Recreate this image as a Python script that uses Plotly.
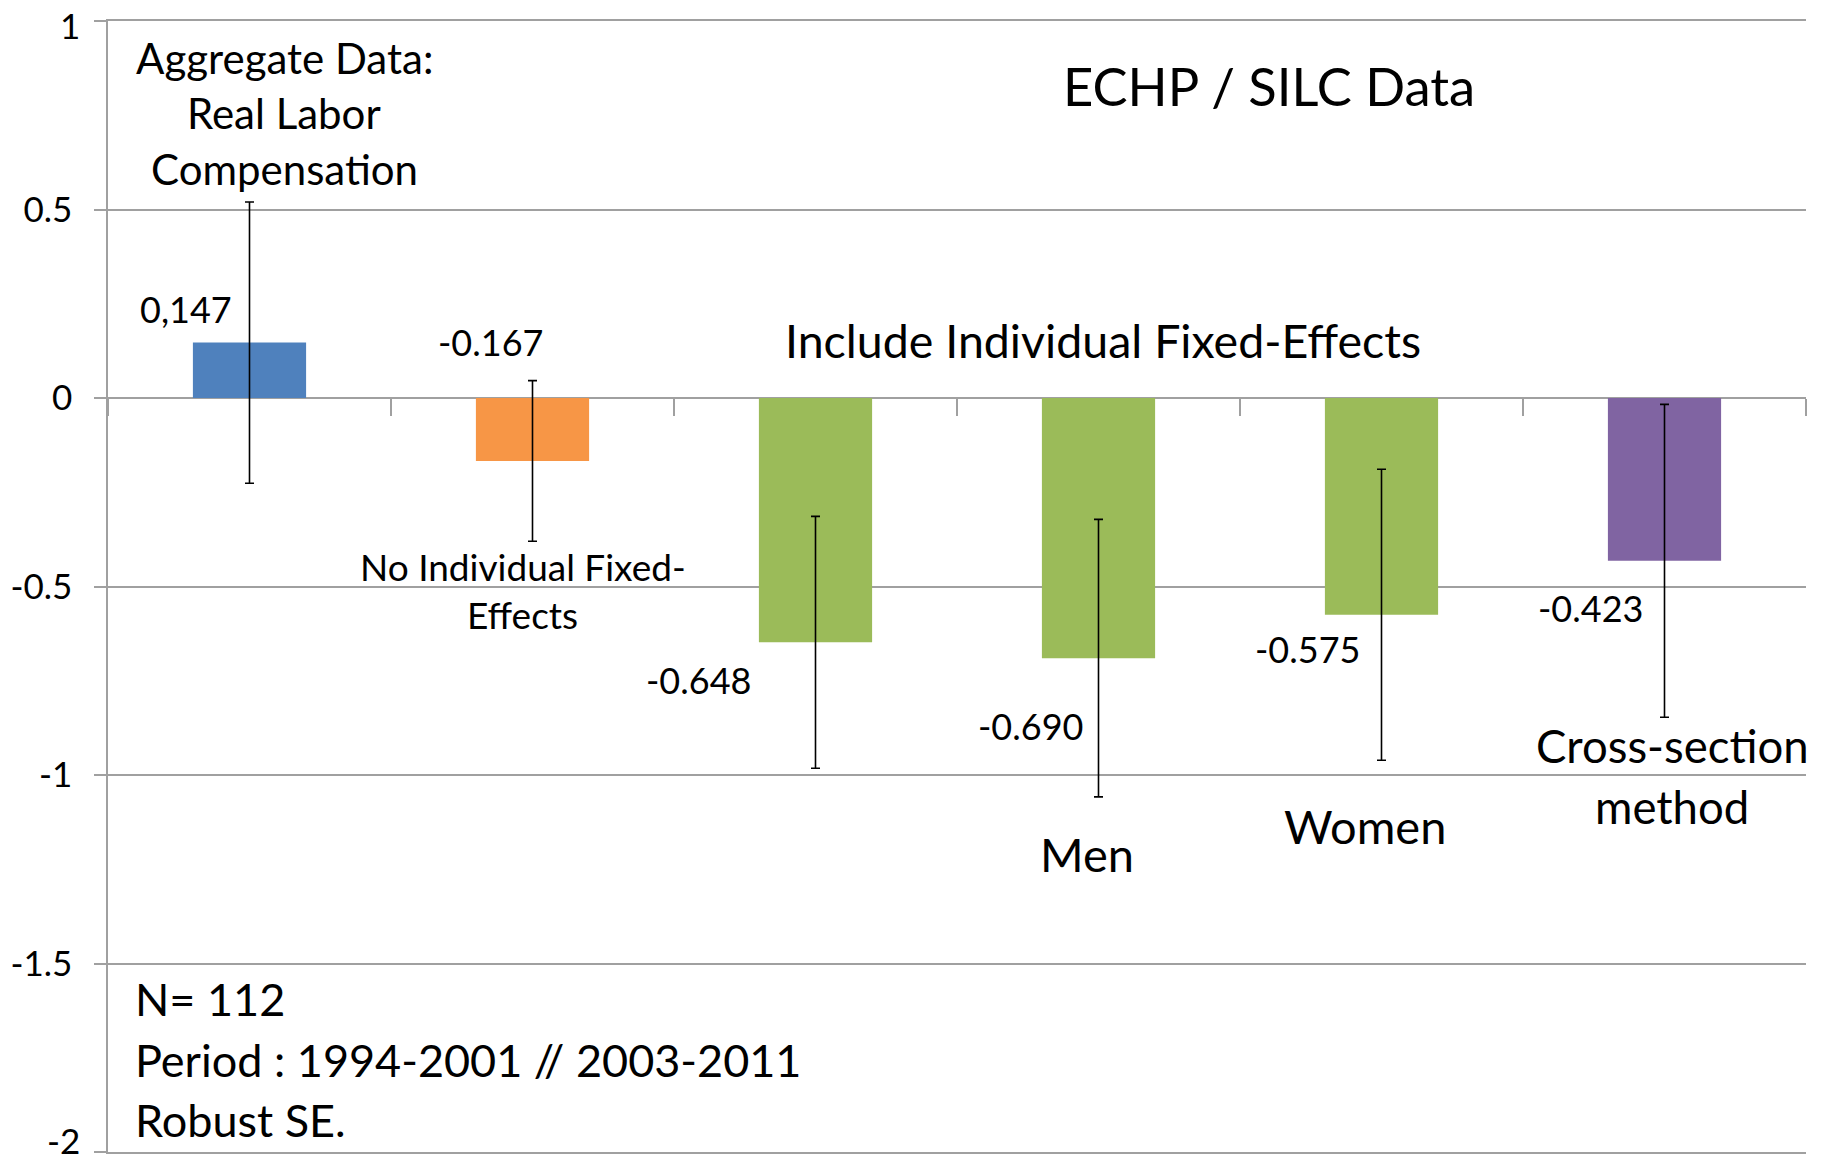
import plotly.graph_objects as go

# ── Data ──────────────────────────────────────────────────────────────────────
categories   = ["Aggregate", "No FE", "FE all", "FE men", "FE women", "Cross-section"]
values       = [0.147, -0.167, -0.648, -0.690, -0.575, -0.432]
errors       = [0.373, 0.213, 0.334, 0.368, 0.386, 0.415]
value_labels = ["0,147", "-0.167", "-0.648", "-0.690", "-0.575", "-0.423"]
bar_colors   = ["#4F81BD", "#F79646", "#9BBB59", "#9BBB59", "#9BBB59", "#8064A2"]
y_ticks      = [1, 0.5, 0, -0.5, -1, -1.5, -2]
y_tick_text  = ["1", "0.5", "0", "-0.5", "-1", "-1.5", "-2"]

_FONT = "Lato, 'Open Sans', sans-serif"
_GRID = "#a0a0a0"

fig = go.Figure()
fig.add_trace(go.Bar(
    x=list(range(len(categories))),
    y=values,
    width=0.4,
    marker=dict(color=bar_colors, line_width=0),
    error_y=dict(type="data", array=errors, color="black", thickness=1.6, width=4.5),
    hoverinfo="skip",
    showlegend=False,
))

# invisible axis at y=0 that only carries the category boundary ticks
fig.add_trace(go.Scatter(x=[-0.5, 5.5], y=[0, 0], xaxis="x2", mode="lines",
                         line_width=0, hoverinfo="skip", showlegend=False))

# value labels next to the bars
label_pos = [(-0.224, 0.236), (0.85, 0.149), (1.585, -0.748),
             (2.761, -0.870), (3.740, -0.666), (4.740, -0.557)]
for (lx, ly), txt in zip(label_pos, value_labels):
    fig.add_annotation(x=lx, y=ly, text=txt, showarrow=False,
                       font=dict(size=36, color="black"))

# free text blocks
texts = [
    ("Aggregate Data:", 0.122, 0.902, 42, "center"),
    ("Real Labor", 0.122, 0.756, 42, "center"),
    ("Compensation", 0.122, 0.607, 42, "center"),
    ("No Individual Fixed-", 0.966, -0.446, 37, "center"),
    ("Effects", 0.966, -0.575, 37, "center"),
    ("Include Individual Fixed-Effects", 3.016, 0.154, 46.5, "center"),
    ("ECHP / SILC Data", 3.602, 0.830, 52.5, "center"),
    ("Men", 2.959, -1.210, 47, "center"),
    ("Women", 3.942, -1.135, 47, "center"),
    ("Cross-section", 5.027, -0.922, 45.5, "center"),
    ("method", 5.027, -1.084, 45.5, "center"),
    ("N= 112", -0.413, -1.595, 45, "left"),
    ("Period : 1994-2001 // 2003-2011", -0.413, -1.755, 45, "left"),
    ("Robust SE.", -0.413, -1.915, 45, "left"),
]
for txt, tx, ty, size, anchor in texts:
    fig.add_annotation(x=tx, y=ty, text=txt, showarrow=False, xanchor=anchor,
                       font=dict(size=size, color="black"))

# the end tick labels sit at the page edge; draw them nudged inwards so they stay visible
tick_text = [""] + y_tick_text[1:-1] + [""]
for idx, shift in ((0, -4), (-1, 12)):
    fig.add_annotation(xref="paper", x=0, y=y_ticks[idx], text=y_tick_text[idx],
                       showarrow=False, xanchor="right", xshift=-26, yshift=shift,
                       font=dict(size=35, color="black"))

# page body adds an 8px margin, so the figure is sized to fit inside the window
fig.update_layout(
    width=1815, height=1149,
    margin=dict(l=100, r=17, t=13, b=5, autoexpand=False),
    paper_bgcolor="white", plot_bgcolor="white",
    font=dict(family=_FONT, color="black"),
    bargap=0.6,
    xaxis=dict(range=[-0.5, 5.5], showticklabels=False, showgrid=False,
               zeroline=False, ticks="", showline=True, mirror=True,
               linecolor=_GRID, linewidth=2, automargin=False),
    xaxis2=dict(range=[-0.5, 5.5], overlaying="x", anchor="free", position=2 / 3,
                tickvals=[-0.5, 0.5, 1.5, 2.5, 3.5, 4.5, 5.5], ticks="outside",
                ticklen=17, tickwidth=1.5, tickcolor=_GRID, showticklabels=False,
                showgrid=False, zeroline=False, showline=False, automargin=False),
    yaxis=dict(range=[-2, 1], tickvals=y_ticks, ticktext=tick_text,
               showgrid=True, gridcolor=_GRID, gridwidth=2, automargin=False,
               zeroline=False, showline=True, linecolor=_GRID, linewidth=1.5,
               ticks="outside", ticklen=12, tickcolor=_GRID, tickwidth=2,
               ticklabelstandoff=15, ticklabeloverflow="allow",
               tickfont=dict(size=35, color="black")),
)

fig.write_html("out.html")
